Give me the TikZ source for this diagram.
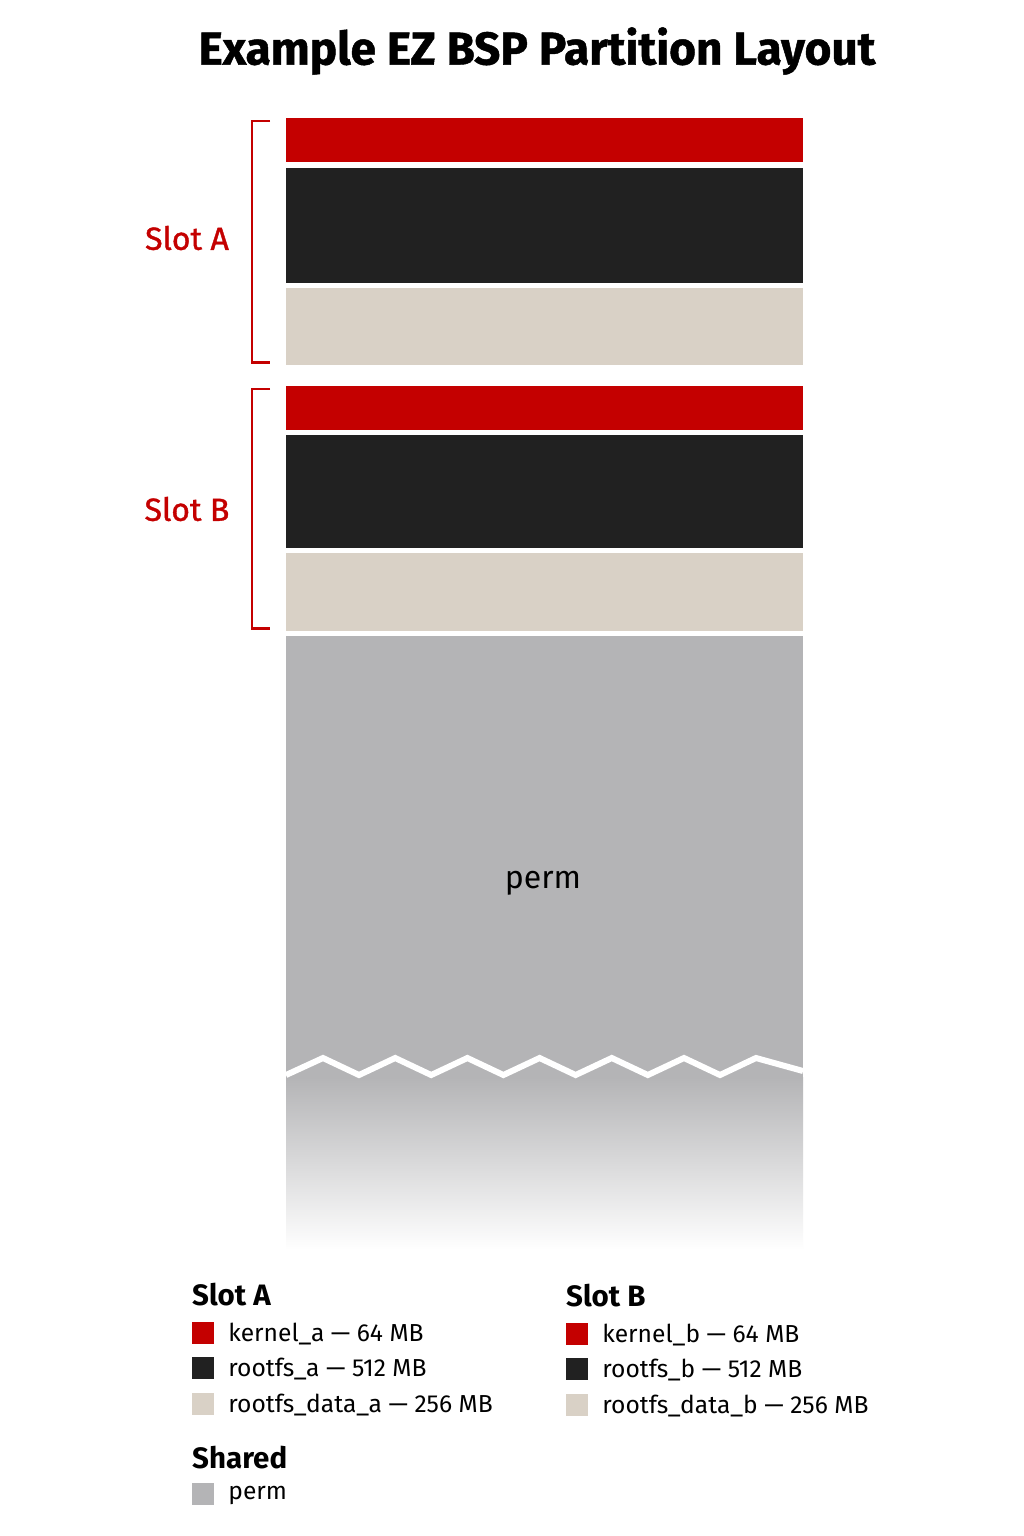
\documentclass[tikz,border=0pt]{standalone}
\usepackage{fontspec}
\setmainfont{Fira Sans}
\usetikzlibrary{positioning}
\definecolor{kred}{HTML}{C40000}
\definecolor{rblack}{HTML}{212121}
\definecolor{dbeige}{HTML}{D9D1C6}
\definecolor{pgray}{HTML}{B4B4B6}

\begin{document}
\begin{tikzpicture}[x=1pt,y=-1pt,
  bar/.style={minimum width=517pt,inner sep=0pt,anchor=north west},
  brk/.style={kred,line width=2.5pt},
  slot/.style={font=\fontsize{32}{36}\selectfont\addfontfeature{FakeBold=1.2},text=kred},
  sq/.style={minimum size=22pt,inner sep=0pt},
  lbl/.style={font=\fontsize{24.6}{28}\selectfont,anchor=west,inner sep=0pt},
  head/.style={font=\fontsize{29.5}{32}\selectfont\bfseries,anchor=west,inner sep=0pt}]
\useasboundingbox[fill=white] (0,0) rectangle (1024,1536);

\node[font=\fontsize{46}{50}\selectfont\bfseries\addfontfeature{FakeBold=1}] (title) at (537,51) {Example EZ BSP Partition Layout};

% slot A
\node[bar,fill=kred,minimum height=44pt] (kA) at (286,118) {};
\node[bar,fill=rblack,minimum height=115pt] (rA) at (286,168) {};
\node[bar,fill=dbeige,minimum height=77pt] (dA) at (286,288) {};
% slot B
\node[bar,fill=kred,minimum height=44pt] (kB) at (286,386) {};
\node[bar,fill=rblack,minimum height=113pt] (rB) at (286,435) {};
\node[bar,fill=dbeige,minimum height=78pt] (dB) at (286,553) {};

\draw[brk] ([xshift=-16pt,yshift=-3pt]kA.north west) -- ++(-18,0) |- ([xshift=-16pt,yshift=3pt]dA.south west);
\draw[brk] ([xshift=-16pt,yshift=-3pt]kB.north west) -- ++(-18,0) |- ([xshift=-16pt,yshift=3pt]dB.south west);
\node[slot] (slotA) at (187,238) {Slot A};
\node[slot] (slotB) at (187,509) {Slot B};

% perm, cut off
\fill[pgray] (286,636) rectangle (803,1078);
\shade[top color=pgray,middle color=pgray!85!white,bottom color=white] (286,1077) rectangle (803,1250);
\node[font=\fontsize{32}{36}\selectfont] (perm) at (543,883) {perm};
\draw[white,line width=6pt] (286,1075)
  \foreach \i in {0,...,5} { -- ({323+72.2*\i},1058) -- ({359+72.2*\i},1075) }
  -- (756,1058) -- (803,1071);

% legend
\node[head] (hA) at (192,1295) {Slot A};
\node[head] (hB) at (566,1296) {Slot B};
\node[head] (hS) at (192,1458) {Shared};
\foreach \y/\c/\t/\n in {1333/kred/kernel\_a — 64 MB/a1,
    1368/rblack/rootfs\_a — 512 MB/a2,
    1404/dbeige/rootfs\_data\_a — 256 MB/a3,
    1494/pgray/perm/s1} {
  \node[sq,fill=\c] (sq\n) at (203,\y) {};
  \node[lbl,right=14pt of sq\n,yshift=-1pt] (t\n) {\t};
}
\foreach \y/\c/\t/\n in {1334/kred/kernel\_b — 64 MB/b1,
    1369/rblack/rootfs\_b — 512 MB/b2,
    1405/dbeige/rootfs\_data\_b — 256 MB/b3} {
  \node[sq,fill=\c] (sq\n) at (577,\y) {};
  \node[lbl,right=14pt of sq\n,yshift=-1pt] (t\n) {\t};
}
\end{tikzpicture}
\end{document}
